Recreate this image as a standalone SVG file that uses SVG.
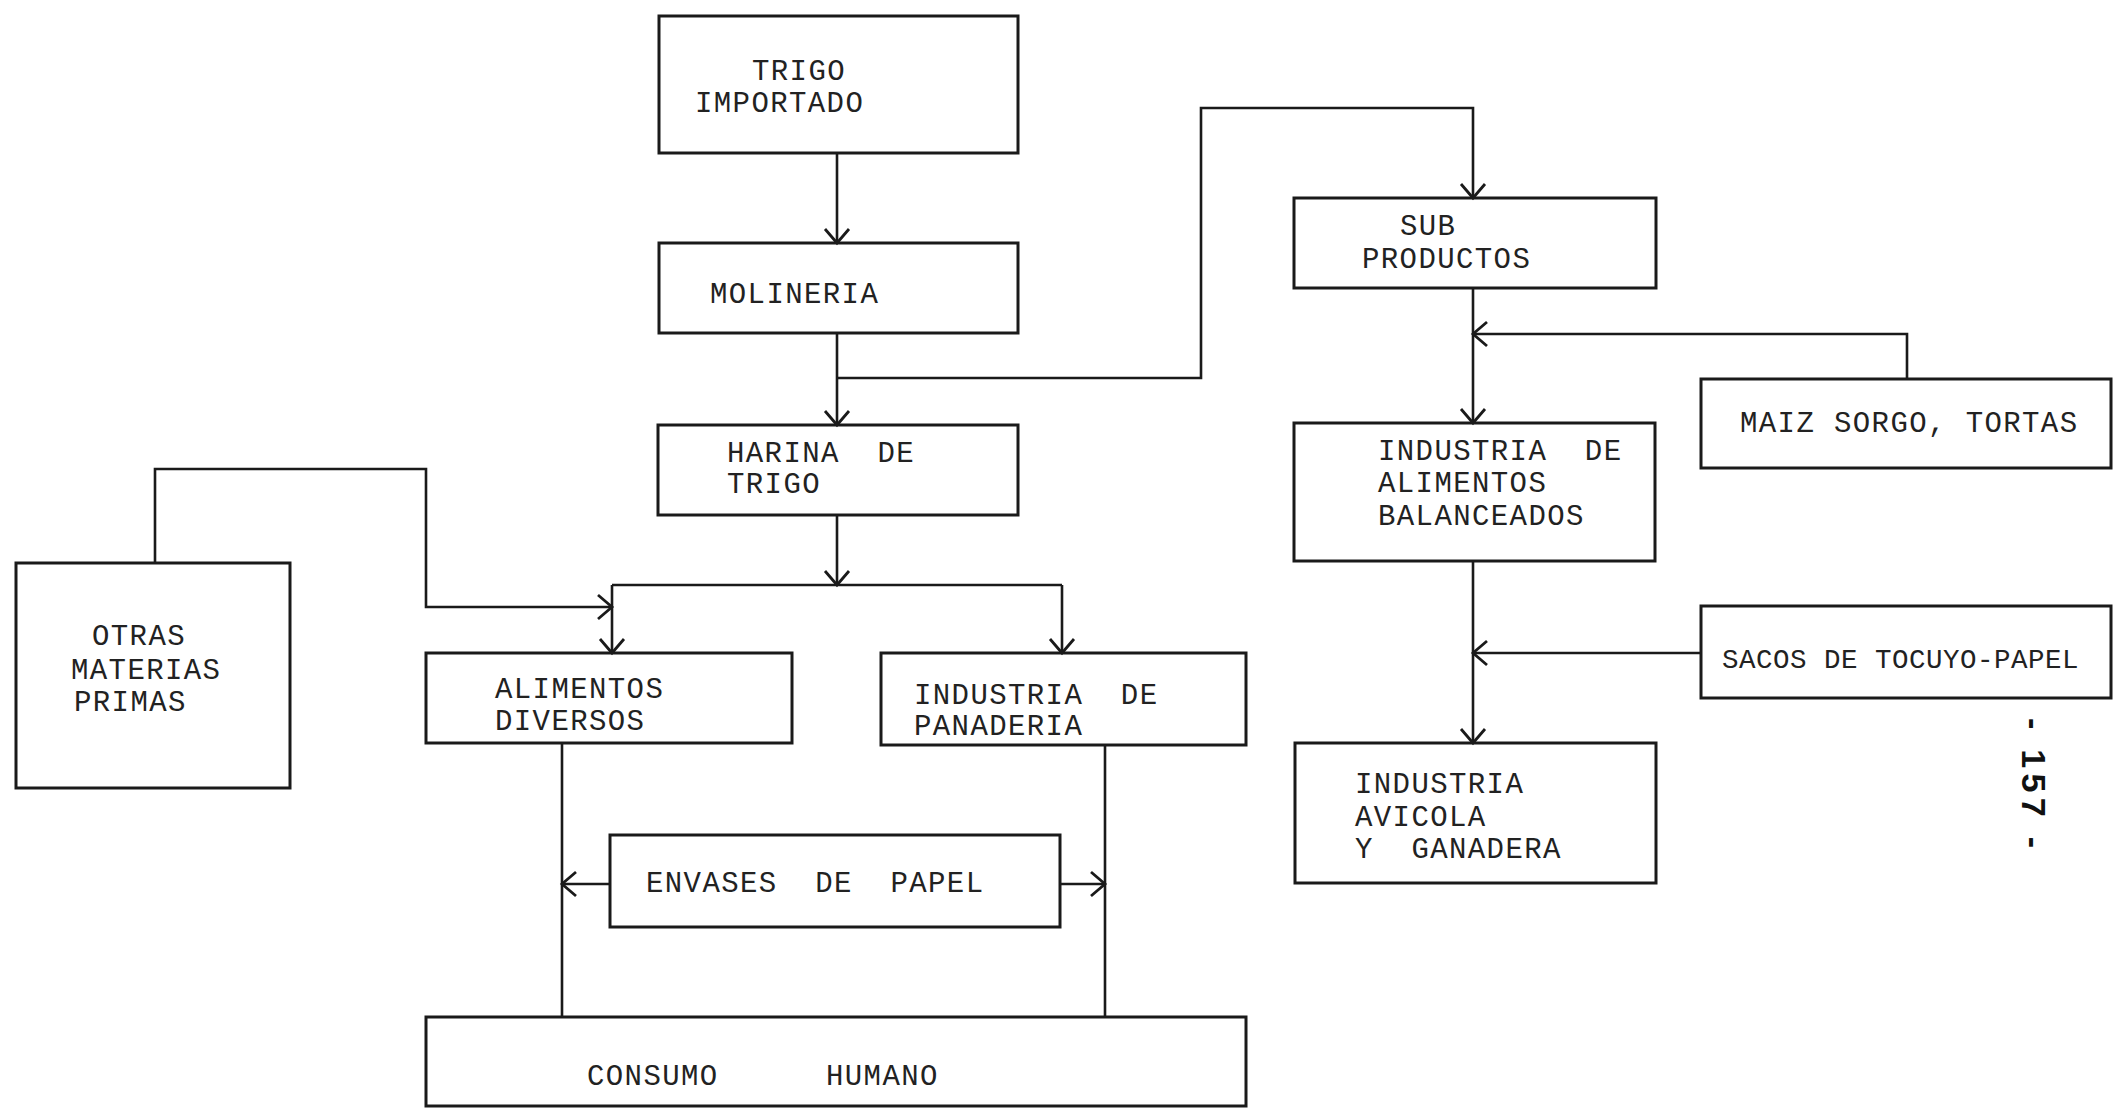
<svg xmlns="http://www.w3.org/2000/svg" width="2113" height="1109" viewBox="0 0 2113 1109">
<defs>
<style>
.box{fill:none;stroke:#1a1a1a;stroke-width:3}
.ln{fill:none;stroke:#1a1a1a;stroke-width:2.6}
text{font-family:"Liberation Mono","DejaVu Sans Mono",monospace;font-size:29px;letter-spacing:1.4px;fill:#222;white-space:pre}
.tight{font-size:27.5px;letter-spacing:0.5px}
.pg{font-family:"Liberation Sans",Arial,sans-serif;font-size:34px;letter-spacing:0;fill:#111;font-weight:bold}
</style>
<marker id="ah" markerUnits="userSpaceOnUse" markerWidth="30" markerHeight="30" refX="0" refY="0" viewBox="-16 -15 20 30" orient="auto">
<path d="M-14,-12 L0,0 L-14,12" fill="none" stroke="#1a1a1a" stroke-width="2.8"/>
</marker>
</defs>
<rect width="2113" height="1109" fill="#fff"/>
<g id="connectors">
<path class="ln" d="M837,153 V243" marker-end="url(#ah)"/>
<path class="ln" d="M837,333 V425" marker-end="url(#ah)"/>
<path class="ln" d="M837,378 H1201 V108 H1473 V198" marker-end="url(#ah)"/>
<path class="ln" d="M837,515 V585" marker-end="url(#ah)"/>
<path class="ln" d="M612,585 H1062"/>
<path class="ln" d="M612,585 V653" marker-end="url(#ah)"/>
<path class="ln" d="M1062,585 V653" marker-end="url(#ah)"/>
<path class="ln" d="M155,563 V469 H426 V607 H612" marker-end="url(#ah)"/>
<path class="ln" d="M562,743 V1017"/>
<path class="ln" d="M1105,745 V1017"/>
<path class="ln" d="M610,884 H562" marker-end="url(#ah)"/>
<path class="ln" d="M1060,884 H1105" marker-end="url(#ah)"/>
<path class="ln" d="M1473,288 V423" marker-end="url(#ah)"/>
<path class="ln" d="M1907,379 V334 H1473" marker-end="url(#ah)"/>
<path class="ln" d="M1473,561 V743" marker-end="url(#ah)"/>
<path class="ln" d="M1701,653 H1473" marker-end="url(#ah)"/>
</g>
<g id="trigo-importado">
<rect class="box" x="659" y="16" width="359" height="137"/>
<text x="752" y="80">TRIGO</text>
<text x="695" y="112">IMPORTADO</text>
</g>
<g id="molineria">
<rect class="box" x="659" y="243" width="359" height="90"/>
<text x="710" y="303">MOLINERIA</text>
</g>
<g id="harina-de-trigo">
<rect class="box" x="658" y="425" width="360" height="90"/>
<text x="727" y="462">HARINA  DE</text>
<text x="727" y="493">TRIGO</text>
</g>
<g id="otras-materias-primas">
<rect class="box" x="16" y="563" width="274" height="225"/>
<text x="92" y="645">OTRAS</text>
<text x="71" y="679">MATERIAS</text>
<text x="74" y="711">PRIMAS</text>
</g>
<g id="alimentos-diversos">
<rect class="box" x="426" y="653" width="366" height="90"/>
<text x="495" y="698">ALIMENTOS</text>
<text x="495" y="730">DIVERSOS</text>
</g>
<g id="industria-panaderia">
<rect class="box" x="881" y="653" width="365" height="92"/>
<text x="914" y="704">INDUSTRIA  DE</text>
<text x="914" y="735">PANADERIA</text>
</g>
<g id="envases-de-papel">
<rect class="box" x="610" y="835" width="450" height="92"/>
<text x="646" y="892">ENVASES  DE  PAPEL</text>
</g>
<g id="consumo-humano">
<rect class="box" x="426" y="1017" width="820" height="89"/>
<text x="587" y="1085">CONSUMO</text>
<text x="826" y="1085">HUMANO</text>
</g>
<g id="sub-productos">
<rect class="box" x="1294" y="198" width="362" height="90"/>
<text x="1400" y="235">SUB</text>
<text x="1362" y="268">PRODUCTOS</text>
</g>
<g id="industria-alimentos-balanceados">
<rect class="box" x="1294" y="423" width="361" height="138"/>
<text x="1378" y="460">INDUSTRIA  DE</text>
<text x="1378" y="492">ALIMENTOS</text>
<text x="1378" y="525">BALANCEADOS</text>
</g>
<g id="maiz-sorgo-tortas">
<rect class="box" x="1701" y="379" width="410" height="89"/>
<text x="1740" y="432">MAIZ SORGO, TORTAS</text>
</g>
<g id="sacos-tocuyo-papel">
<rect class="box" x="1701" y="606" width="410" height="92"/>
<text class="tight" x="1722" y="668">SACOS DE TOCUYO-PAPEL</text>
</g>
<g id="industria-avicola-ganadera">
<rect class="box" x="1295" y="743" width="361" height="140"/>
<text x="1355" y="793">INDUSTRIA</text>
<text x="1355" y="826">AVICOLA</text>
<text x="1355" y="858">Y  GANADERA</text>
</g>
<g id="page-number">
<text class="pg" transform="translate(2034,783) rotate(90)" x="0" y="12" text-anchor="middle" textLength="130" lengthAdjust="spacing">- 157 -</text>
</g>
</svg>
